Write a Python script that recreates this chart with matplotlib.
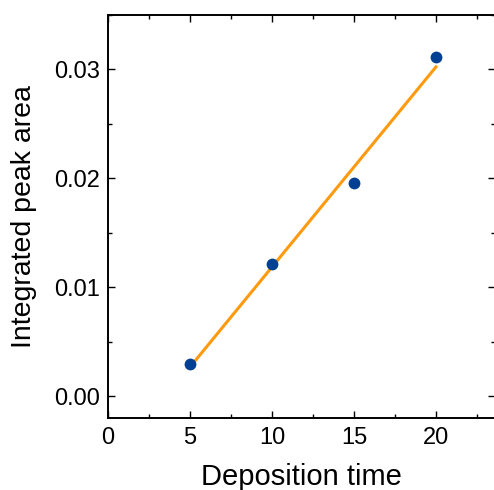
import numpy as np
import matplotlib
matplotlib.use("Agg")
import matplotlib.pyplot as plt
from matplotlib.ticker import MultipleLocator, FormatStrFormatter

plt.rcParams['font.family'] = ['Liberation Sans', 'DejaVu Sans']

deposition_time = [5, 10, 15, 20]
peak_area = [0.0030, 0.01215, 0.01957, 0.0311]

# linear fit through the measured points
slope, intercept = np.polyfit(deposition_time, peak_area, 1)
fit_x = np.array([deposition_time[0], deposition_time[-1]])
fit_y = slope * fit_x + intercept

fig = plt.figure(figsize=(4.94, 4.90), dpi=100)
ax = fig.add_axes([0.2186, 0.1463, 0.7834, 0.8237])

ax.plot(fit_x, fit_y, color='#ff9a0e', lw=2.2, zorder=2)
ax.plot(deposition_time, peak_area, 'o', color='#024093', ms=8.5, mew=0, zorder=3)

ax.set_xlim(0, 23.6)
ax.set_ylim(-0.002, 0.035)
ax.xaxis.set_major_locator(MultipleLocator(5))
ax.xaxis.set_minor_locator(MultipleLocator(2.5))
ax.yaxis.set_major_locator(MultipleLocator(0.01))
ax.yaxis.set_minor_locator(MultipleLocator(0.005))
ax.yaxis.set_major_formatter(FormatStrFormatter('%.2f'))

ax.tick_params(which='both', direction='in', top=True, right=True,
               width=1.0, labelsize=17, pad=6)
ax.tick_params(which='major', length=5)
ax.tick_params(which='minor', length=3)
for s in ax.spines.values():
    s.set_linewidth(1.4)

ax.set_xlabel('Deposition time', fontsize=21, labelpad=10)
ax.set_ylabel('Integrated peak area', fontsize=20.5, labelpad=12)

fig.savefig('out.png', dpi=100)
